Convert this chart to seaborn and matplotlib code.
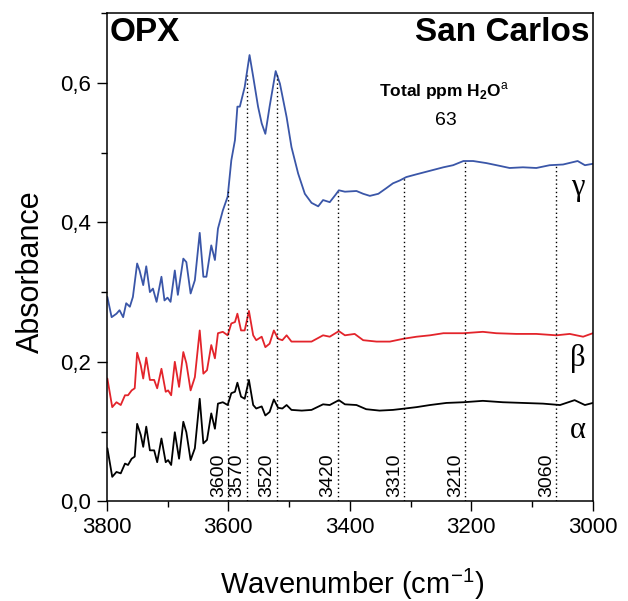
import numpy as np
import pandas as pd
import seaborn as sns
import matplotlib.pyplot as plt
from matplotlib.ticker import MultipleLocator

# Spectra (wavenumber in cm-1, absorbance)
wn_gamma = [3799, 3792, 3784, 3779, 3773, 3768, 3762, 3757, 3750, 3746, 3740, 3735, 3729, 3724,
            3718, 3710, 3705, 3700, 3695, 3688, 3683, 3674, 3669, 3662, 3655, 3647, 3641, 3636,
            3628, 3622, 3617, 3609, 3601, 3595, 3589, 3585, 3581, 3573, 3565, 3559, 3551, 3545,
            3539, 3532, 3522, 3515, 3504, 3496, 3485, 3474, 3463, 3452, 3444, 3433, 3424, 3418,
            3408, 3389, 3378, 3367, 3353, 3340, 3329, 3318, 3307, 3290, 3268, 3246, 3230, 3213,
            3197, 3175, 3153, 3137, 3115, 3093, 3071, 3049, 3025, 3013, 3000]
abs_gamma = [0.293, 0.264, 0.269, 0.274, 0.264, 0.284, 0.279, 0.293, 0.341, 0.331, 0.310, 0.337,
             0.300, 0.305, 0.286, 0.322, 0.288, 0.292, 0.286, 0.331, 0.296, 0.348, 0.343, 0.298,
             0.317, 0.385, 0.322, 0.322, 0.367, 0.346, 0.391, 0.417, 0.437, 0.489, 0.518, 0.566,
             0.566, 0.594, 0.640, 0.609, 0.566, 0.542, 0.527, 0.566, 0.617, 0.599, 0.551, 0.508,
             0.470, 0.441, 0.428, 0.423, 0.432, 0.429, 0.439, 0.446, 0.444, 0.445, 0.441, 0.438,
             0.441, 0.449, 0.456, 0.460, 0.465, 0.469, 0.474, 0.479, 0.482, 0.488, 0.488, 0.485,
             0.481, 0.478, 0.479, 0.478, 0.482, 0.483, 0.488, 0.482, 0.484]

wn_beta = [3799, 3791, 3784, 3777, 3770, 3765, 3759, 3754, 3750, 3744, 3740, 3735, 3729, 3722,
           3717, 3710, 3703, 3699, 3694, 3688, 3681, 3674, 3669, 3662, 3655, 3647, 3641, 3635,
           3628, 3622, 3617, 3609, 3601, 3595, 3589, 3585, 3579, 3573, 3566, 3559, 3554, 3545,
           3539, 3532, 3525, 3518, 3511, 3504, 3496, 3479, 3463, 3444, 3433, 3418, 3408, 3392,
           3378, 3356, 3334, 3312, 3290, 3268, 3246, 3213, 3181, 3159, 3126, 3093, 3060, 3038,
           3016, 3000]
abs_beta = [0.176, 0.135, 0.142, 0.138, 0.152, 0.152, 0.159, 0.162, 0.213, 0.195, 0.176, 0.206,
            0.174, 0.174, 0.162, 0.190, 0.157, 0.159, 0.152, 0.200, 0.164, 0.214, 0.198, 0.159,
            0.178, 0.245, 0.183, 0.188, 0.224, 0.205, 0.241, 0.243, 0.238, 0.255, 0.257, 0.269,
            0.245, 0.245, 0.273, 0.238, 0.231, 0.236, 0.221, 0.226, 0.245, 0.233, 0.231, 0.238,
            0.229, 0.229, 0.229, 0.238, 0.236, 0.244, 0.238, 0.240, 0.231, 0.229, 0.229, 0.233,
            0.236, 0.238, 0.241, 0.241, 0.243, 0.241, 0.240, 0.240, 0.238, 0.240, 0.236, 0.241]

wn_alpha = [3799, 3791, 3784, 3777, 3770, 3765, 3759, 3754, 3750, 3744, 3740, 3735, 3729, 3722,
            3717, 3710, 3703, 3699, 3694, 3688, 3681, 3674, 3669, 3662, 3655, 3647, 3641, 3635,
            3628, 3622, 3617, 3609, 3601, 3595, 3589, 3585, 3579, 3573, 3566, 3559, 3554, 3545,
            3539, 3532, 3525, 3518, 3511, 3504, 3496, 3479, 3463, 3444, 3433, 3418, 3408, 3389,
            3373, 3351, 3329, 3309, 3290, 3268, 3241, 3213, 3181, 3148, 3115, 3082, 3054, 3030,
            3013, 3000]
abs_alpha = [0.076, 0.035, 0.042, 0.040, 0.054, 0.052, 0.061, 0.064, 0.111, 0.095, 0.078, 0.107,
             0.073, 0.073, 0.056, 0.090, 0.056, 0.059, 0.052, 0.099, 0.061, 0.114, 0.099, 0.059,
             0.076, 0.147, 0.083, 0.088, 0.126, 0.104, 0.140, 0.142, 0.138, 0.155, 0.157, 0.170,
             0.150, 0.147, 0.174, 0.138, 0.133, 0.136, 0.123, 0.128, 0.146, 0.134, 0.133, 0.138,
             0.131, 0.130, 0.131, 0.139, 0.138, 0.145, 0.139, 0.138, 0.132, 0.130, 0.131, 0.133,
             0.135, 0.138, 0.141, 0.142, 0.144, 0.142, 0.141, 0.140, 0.138, 0.145, 0.138, 0.141]

band_positions = [3600, 3570, 3520, 3420, 3310, 3210, 3060]
band_labels = ['3600', '3570', '3520', '3420', '3310', '3210', '3060']
xticks = [3800, 3600, 3400, 3200, 3000]
yticks = [0.0, 0.2, 0.4, 0.6]
ytick_labels = ['0,0', '0,2', '0,4', '0,6']

sns.set_style('ticks')
plt.rcParams['font.family'] = ['Liberation Sans', 'DejaVu Sans']
plt.rcParams['mathtext.fontset'] = 'custom'
plt.rcParams['mathtext.rm'] = 'Liberation Sans'
plt.rcParams['mathtext.bf'] = 'Liberation Sans:bold'
# seaborn greys the text, the original is plain black
for key in ['text.color', 'axes.labelcolor', 'xtick.color', 'ytick.color', 'axes.edgecolor']:
    plt.rcParams[key] = 'black'

fig, ax = plt.subplots(figsize=(6.28, 6.01), dpi=100)
fig.subplots_adjust(left=0.170, right=0.944, bottom=0.166, top=0.978)

series = [
    (wn_gamma, abs_gamma, '#3a56a8'),
    (wn_beta, abs_beta, '#e3242b'),
    (wn_alpha, abs_alpha, 'black'),
]
for wn, ab, col in series:
    df = pd.DataFrame({'wn': wn, 'abs': ab})
    sns.lineplot(data=df, x='wn', y='abs', ax=ax, color=col, linewidth=1.3, estimator=None)

# dotted band markers up to the gamma spectrum
g_x = np.array(wn_gamma[::-1])
g_y = np.array(abs_gamma[::-1])
tops = np.interp(band_positions, g_x, g_y)
ax.vlines(band_positions, 0, tops, colors='black', linestyles=(0, (1, 2)), linewidth=1)
for pos, lab in zip(band_positions, band_labels):
    ax.text(pos + 2, 0.006, lab, rotation=90, ha='right', va='bottom', fontsize=14)

# greek labels
for lab, yv in [('γ', 0.439), ('β', 0.194), ('α', 0.090)]:
    ax.text(3025, yv, lab, ha='center', va='baseline', fontsize=22,
            family=['Liberation Serif', 'DejaVu Serif'])

ax.text(0.006, 0.992, 'OPX', transform=ax.transAxes, ha='left', va='top',
        fontsize=24, fontweight='bold')
ax.text(0.994, 0.992, 'San Carlos', transform=ax.transAxes, ha='right', va='top',
        fontsize=24, fontweight='bold')
ax.text(3245, 0.581, r'Total ppm H$_\mathbf{2}$O$^\mathrm{a}$', ha='center', va='baseline',
        fontsize=12.5, fontweight='bold')
ax.text(3242, 0.539, '63', ha='center', va='baseline', fontsize=14)

ax.set_xlim(3800, 3000)
ax.set_ylim(0, 0.7)
ax.set_xticks(xticks)
ax.set_xticklabels([str(t) for t in xticks])
ax.set_yticks(yticks)
ax.set_yticklabels(ytick_labels)
ax.xaxis.set_minor_locator(MultipleLocator(100))
ax.yaxis.set_minor_locator(MultipleLocator(0.1))
ax.tick_params(which='major', direction='out', length=7, width=1, labelsize=16, pad=4, color='black')
ax.tick_params(which='minor', direction='out', length=4, width=1, color='black')
for sp in ax.spines.values():
    sp.set_visible(True)
    sp.set_linewidth(1.1)
    sp.set_color('black')

ax.set_xlabel('Wavenumber (cm$^{-1}$)', fontsize=21)
ax.set_ylabel('Absorbance', fontsize=22)
ax.xaxis.set_label_coords(0.504, -0.135)
ax.yaxis.set_label_coords(-0.126, 0.47)

fig.savefig('out.png', dpi=100)
